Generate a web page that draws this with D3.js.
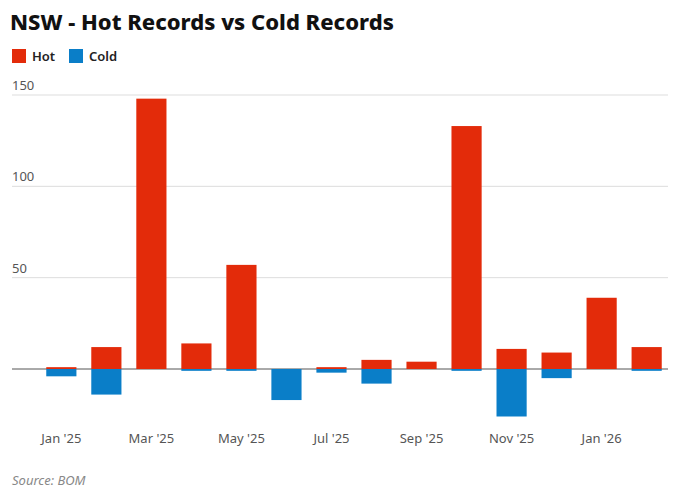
<!DOCTYPE html>
<html><head><meta charset="utf-8">
<script src="https://cdn.jsdelivr.net/npm/d3@7"></script>
<style>body{margin:0;background:#fff;font-family:"Noto Sans",sans-serif;}</style>
</head><body>
<script>
var months = ["Jan '25","Feb '25","Mar '25","Apr '25","May '25","Jun '25","Jul '25","Aug '25","Sep '25","Oct '25","Nov '25","Dec '25","Jan '26","Feb '26"];
var hot = [1,12,148,14,57,0,1,5,4,133,11,9,39,12];
var cold = [-4,-14,0,-1,-1,-17,-2,-8,0,-1,-26,-5,0,-1];
var yTicks = [0,50,100,150];

var w = 680, h = 501;
var svg = d3.select("body").append("svg").attr("width", w).attr("height", h);

svg.append("text").attr("x", 10).attr("y", 30).attr("font-size", 22).attr("font-weight", 800)
    .attr("fill", "#111").text("NSW - Hot Records vs Cold Records");

var legend = [["Hot","#e32b0a"],["Cold","#0a7ec8"]];
var lg = svg.selectAll(".lg").data(legend).enter().append("g")
    .attr("transform", function(d, i) { return "translate(" + (12 + i * 57) + ",49)"; });
lg.append("rect").attr("width", 14).attr("height", 14).attr("fill", function(d) { return d[1]; });
lg.append("text").attr("x", 20).attr("y", 12).attr("font-size", 13).attr("font-weight", 600)
    .attr("fill", "#222").text(function(d) { return d[0]; });

var x = d3.scaleBand().domain(months).range([31.4, 676.6]).padding(0.33);
var y = d3.scaleLinear().domain([0, 150]).range([369, 95]);

svg.selectAll(".grid").data(yTicks).enter().append("line")
    .attr("x1", 12).attr("x2", 668).attr("y1", y).attr("y2", y)
    .attr("stroke", function(d) { return d === 0 ? "#555" : "#ddd"; }).attr("stroke-width", 1);
svg.selectAll(".yl").data(yTicks.slice(1)).enter().append("text")
    .attr("x", 12).attr("y", function(d) { return y(d) - 5; }).attr("font-size", 13)
    .attr("fill", "#555").text(function(d) { return d; });

svg.selectAll(".hot").data(hot).enter().append("rect")
    .attr("x", function(d, i) { return x(months[i]); }).attr("width", x.bandwidth())
    .attr("y", function(d) { return y(d); }).attr("height", function(d) { return y(0) - y(d); })
    .attr("fill", "#e32b0a");
svg.selectAll(".cold").data(cold).enter().append("rect")
    .attr("x", function(d, i) { return x(months[i]); }).attr("width", x.bandwidth())
    .attr("y", y(0)).attr("height", function(d) { return y(d) - y(0); })
    .attr("fill", "#0a7ec8");

svg.selectAll(".xl").data(months.filter(function(d, i) { return i % 2 === 0; })).enter().append("text")
    .attr("x", function(d) { return x(d) + x.bandwidth() / 2; }).attr("y", 443)
    .attr("text-anchor", "middle").attr("font-size", 13).attr("fill", "#555").text(function(d) { return d; });

svg.append("text").attr("x", 12).attr("y", 485).attr("font-size", 13).attr("font-style", "italic")
    .attr("fill", "#888").text("Source: BOM");
</script>
</body></html>
